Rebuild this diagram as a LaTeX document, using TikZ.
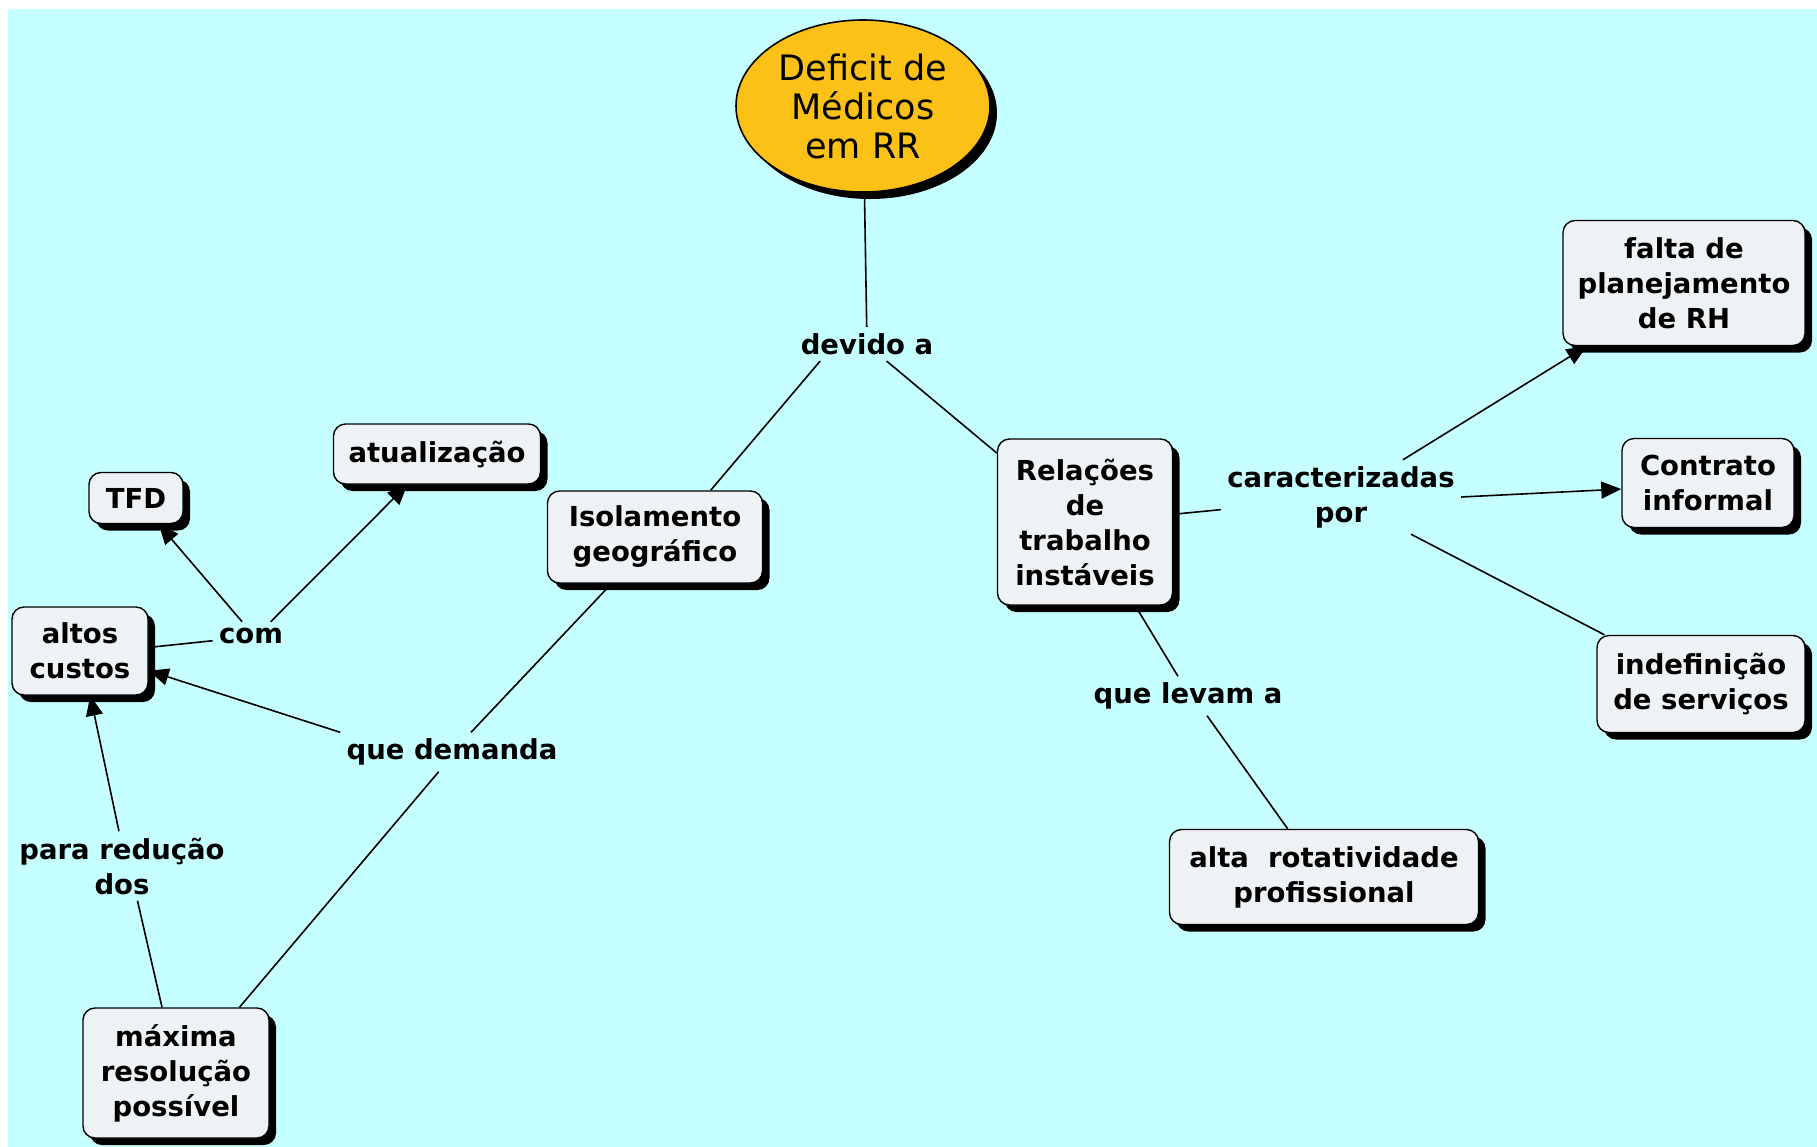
\documentclass[tikz,border=0pt]{standalone}
\usepackage{fontspec}
\setmainfont{DejaVu Sans}
\usetikzlibrary{shapes.geometric,shadows,arrows.meta}
\definecolor{bgcyan}{RGB}{198,255,255}
\definecolor{boxgray}{RGB}{238,242,245}
\definecolor{mainyellow}{RGB}{252,193,22}
\tikzset{
  concept/.style={draw=black, line width=0.7pt, fill=boxgray, rounded corners=6pt,
    align=center, inner sep=0pt, font=\fontsize{13.75}{17.5}\selectfont\bfseries,
    drop shadow={shadow xshift=3.5pt, shadow yshift=-3.5pt, fill=black, opacity=1}},
  linkword/.style={align=center, inner sep=3pt, font=\fontsize{13.75}{17.5}\selectfont\bfseries},
  conn/.style={line width=0.8pt, draw=black},
  arr/.style={conn, -{Triangle[length=10pt,width=8.5pt]}},
}
\begin{document}
\begin{tikzpicture}[x=0.5pt, y=-0.5pt]
    \useasboundingbox (0,0) rectangle (1817,1147);
    \fill[white] (0,0) rectangle (1817,1147);
    \fill[bgcyan] (8,9) rectangle (1817,1147);

    %% main concept
    \node[ellipse, draw=black, line width=0.8pt, fill=mainyellow, minimum width=127pt,
        minimum height=86pt, inner sep=0pt, align=center, font=\fontsize{17.5}{19.5}\selectfont,
        drop shadow={shadow xshift=3.5pt, shadow yshift=-3.5pt, fill=black, opacity=1}]
        (deficit) at (863,106) {Deficit de\\Médicos\\em RR};
    \node[linkword] (devido) at (867,344) {devido a};

    %% right branch
    \node[concept, minimum width=87.5pt, minimum height=83pt] (rel) at (1085,522) {Relações\\de\\trabalho\\instáveis};
    \node[linkword] (caract) at (1341,497) {caracterizadas\\por};
    \node[concept, minimum width=121pt, minimum height=62.5pt] (falta) at (1684,283) {falta de\\planejamento\\de RH};
    \node[concept, minimum width=86pt, minimum height=44.5pt] (contrato) at (1708,483) {Contrato\\informal};
    \node[concept, minimum width=104pt, minimum height=48.5pt] (indef) at (1701,684) {indefinição\\de serviços};
    \node[linkword] (levam) at (1188,696) {que levam a};
    \node[concept, minimum width=154.5pt, minimum height=47.5pt] (alta) at (1324,877) {alta~ rotatividade\\profissional};

    %% left branch
    \node[concept, minimum width=107.5pt, minimum height=46pt] (iso) at (655,537) {Isolamento\\geográfico};
    \node[linkword] (demanda) at (452,752) {que demanda};
    \node[concept, minimum width=93pt, minimum height=65pt] (maxima) at (176,1073) {máxima\\resolução\\possível};
    \node[concept, minimum width=68pt, minimum height=44pt] (altos) at (80,651) {altos\\custos};
    \node[linkword] (com) at (251,636) {com};
    \node[concept, minimum width=47pt, minimum height=25.5pt] (tfd) at (136,498) {TFD};
    \node[concept, minimum width=103.5pt, minimum height=30pt] (atual) at (437,454) {atualização};
    \node[linkword] (reducao) at (122,866) {para redução\\dos};

    %% links
    \draw[conn] (deficit) -- (devido);
    \draw[conn] (devido.200) -- (iso.40);
    \draw[conn] (devido.319) -- (rel.142);
    \draw[conn] (rel.5) -- (caract.186);
    \draw[arr] (caract.31) -- (falta.213);
    \draw[arr] (caract.east) -- (contrato.184);
    \draw[conn] (caract.332) -- (indef.153);
    \draw[conn] (rel.301) -- (levam.117);
    \draw[conn] (levam.314) -- (alta.127);
    \draw[conn] (iso.227) -- (demanda.46);
    \draw[conn] (demanda.236) -- (maxima.46);
    \draw[arr] (demanda.north west) -- (altos.344);
    \draw[conn] (altos.3) -- (com.187);
    \draw[arr] (com.122) -- (tfd.311);
    \draw[arr] (com.36) -- (atual.226);
    \draw[conn] (maxima.102) -- (reducao.294);
    \draw[arr] (reducao.95) -- (altos.283);
\end{tikzpicture}
\end{document}
